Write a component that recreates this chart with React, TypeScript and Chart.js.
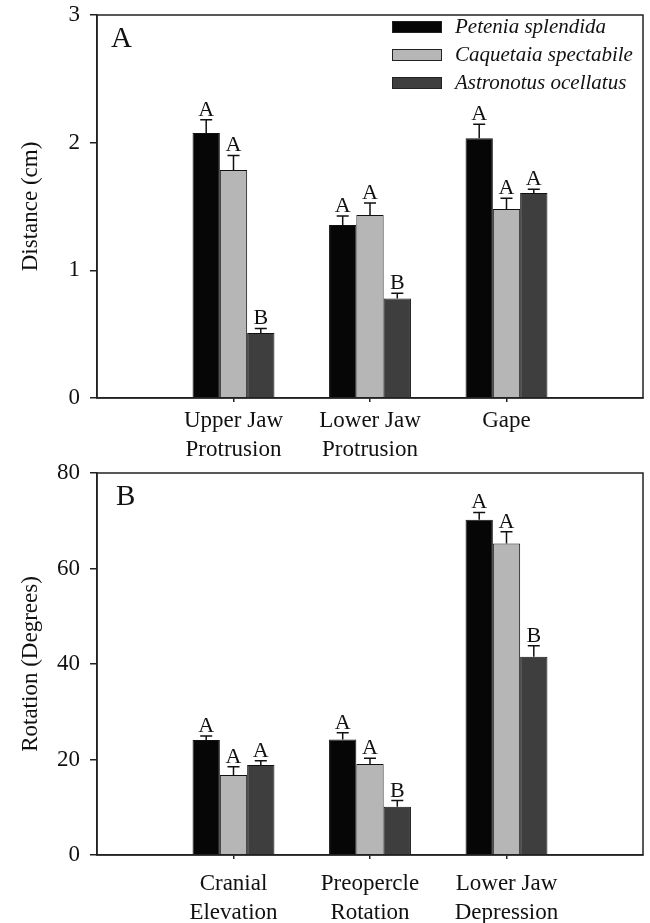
import React, { useEffect, useRef } from "react";
import { Chart, registerables } from "chart.js";
Chart.register(...registerables);

const FONT = "'Liberation Serif', 'Times New Roman', Times, serif";

const SERIES = ["Petenia splendida", "Caquetaia spectabile", "Astronotus ocellatus"];
const COLORS = ["#060606", "#b6b6b6", "#3e3e3e"];

// Panel A: distance (cm)
const CATS_A = [["Upper Jaw", "Protrusion"], ["Lower Jaw", "Protrusion"], ["Gape"]];
const PETENIA_A = [2.075, 1.355, 2.035];
const PETENIA_A_SE = [0.105, 0.07, 0.11];
const CAQUETAIA_A = [1.785, 1.433, 1.48];
const CAQUETAIA_A_SE = [0.115, 0.095, 0.085];
const ASTRONOTUS_A = [0.51, 0.78, 1.605];
const ASTRONOTUS_A_SE = [0.035, 0.04, 0.03];
const LETTERS_A = [["A", "A", "A"], ["A", "A", "A"], ["B", "B", "A"]];
const TICKS_A = { max: 3, step: 1 };

// Panel B: rotation (degrees)
const CATS_B = [["Cranial", "Elevation"], ["Preopercle", "Rotation"], ["Lower Jaw", "Depression"]];
const PETENIA_B = [24.1, 24.2, 70.2];
const PETENIA_B_SE = [0.8, 1.4, 1.55];
const CAQUETAIA_B = [16.75, 19.05, 65.25];
const CAQUETAIA_B_SE = [1.75, 1.2, 2.45];
const ASTRONOTUS_B = [18.85, 10.1, 41.5];
const ASTRONOTUS_B_SE = [0.9, 1.3, 2.3];
const LETTERS_B = [["A", "A", "A"], ["A", "A", "A"], ["A", "B", "B"]];
const TICKS_B = { max: 80, step: 20 };

type PanelProps = {
  height: number;
  topPad: number;
  xAxisH: number;
  xPad: number;
  cats: string[][];
  values: number[][];
  errors: number[][];
  letters: string[][];
  yMax: number;
  yStep: number;
  yTitle: string;
  panel: string;
  panelX: number;
  legend: boolean;
};

function Panel(p: PanelProps) {
  const ref = useRef<HTMLCanvasElement>(null);
  useEffect(() => {
    if (!ref.current) return;
    const labels: any[] = ["", ...p.cats, ""];
    const n = labels.length;
    const overlay = {
      id: "overlay",
      afterDatasetsDraw(chart: any) {
        const { ctx, chartArea: a } = chart;
        const y = chart.scales.y;
        ctx.save();
        ctx.strokeStyle = "#222";
        ctx.lineWidth = 1.5;
        ctx.strokeRect(a.left, a.top, a.right - a.left, a.bottom - a.top);
        // error bars and letters
        p.values.forEach((vals, i) => {
          const meta = chart.getDatasetMeta(i);
          vals.forEach((v, j) => {
            const bar = meta.data[j + 1];
            const x = bar.x;
            const y0 = y.getPixelForValue(v);
            const y1 = y.getPixelForValue(v + p.errors[i][j]);
            ctx.strokeStyle = "#111";
            ctx.lineWidth = 1.5;
            ctx.beginPath();
            ctx.moveTo(x, y0);
            ctx.lineTo(x, y1);
            ctx.moveTo(x - 6, y1);
            ctx.lineTo(x + 6, y1);
            ctx.stroke();
            ctx.fillStyle = "#111";
            ctx.font = `22px ${FONT}`;
            ctx.textAlign = "center";
            ctx.textBaseline = "alphabetic";
            ctx.fillText(p.letters[i][j], x, y1 - 4);
          });
        });
        // panel letter
        ctx.fillStyle = "#111";
        ctx.font = `29px ${FONT}`;
        ctx.textAlign = "left";
        ctx.textBaseline = "alphabetic";
        ctx.fillText(p.panel, a.left + p.panelX, a.top + 32);
        // legend
        if (p.legend) {
          SERIES.forEach((s, i) => {
            const cy = a.top + 12 + 28 * i;
            const sx = a.right - 251;
            ctx.fillStyle = COLORS[i];
            ctx.fillRect(sx, cy - 6, 50, 12);
            ctx.strokeStyle = "#222";
            ctx.lineWidth = 1;
            ctx.strokeRect(sx + 0.5, cy - 5.5, 49, 11);
            ctx.fillStyle = "#111";
            ctx.font = `italic 21px ${FONT}`;
            ctx.textAlign = "left";
            ctx.textBaseline = "middle";
            ctx.fillText(s, sx + 63, cy);
          });
        }
        ctx.restore();
      },
    };
    const chart = new Chart(ref.current, {
      type: "bar",
      data: {
        labels,
        datasets: SERIES.map((s, i) => ({
          label: s,
          data: [null, ...p.values[i], null],
          backgroundColor: COLORS[i],
          borderColor: "#111",
          borderWidth: 1,
          categoryPercentage: 0.6,
          barPercentage: 1,
        })),
      },
      options: {
        animation: false,
        responsive: false,
        maintainAspectRatio: false,
        layout: { padding: { top: p.topPad, right: 7, left: 0, bottom: 0 } },
        plugins: { legend: { display: false }, tooltip: { enabled: false } },
        scales: {
          x: {
            type: "category",
            offset: false,
            grid: {
              display: true,
              offset: false,
              drawOnChartArea: false,
              drawTicks: true,
              tickLength: 4,
              lineWidth: 1.5,
              color: (c: any) => (c.index === 0 || c.index === n - 1 ? "rgba(0,0,0,0)" : "#222"),
            },
            border: { display: true, color: "#222", width: 1.5 },
            ticks: {
              autoSkip: false,
              maxRotation: 0,
              minRotation: 0,
              padding: p.xPad,
              color: "#111",
              font: { family: FONT, size: 23, lineHeight: 1.25 },
            },
            afterFit: (s: any) => {
              s.height = p.xAxisH;
              s.paddingLeft = 0;
              s.paddingRight = 0;
            },
          },
          y: {
            min: 0,
            max: p.yMax,
            ticks: { stepSize: p.yStep, padding: 10, color: "#111", font: { family: FONT, size: 23 } },
            grid: { drawOnChartArea: false, drawTicks: true, tickLength: 7, color: "#222", lineWidth: 1.5 },
            border: { display: true, color: "#222", width: 1.5 },
            title: {
              display: true,
              text: p.yTitle,
              color: "#111",
              font: { family: FONT, size: 23 },
              padding: { top: 17, bottom: 0 },
            },
            afterFit: (s: any) => {
              s.width = 97;
              s.paddingTop = 0;
              s.paddingBottom = 0;
            },
          },
        },
      } as any,
      plugins: [overlay],
    });
    return () => chart.destroy();
  }, []);
  return <canvas ref={ref} width={650} height={p.height} style={{ display: "block", width: 650, height: p.height }} />;
}

export default function App() {
  return (
    <div style={{ position: "absolute", left: 0, top: 0, width: 650, background: "#fff" }}>
      <Panel
        height={461}
        topPad={15}
        xAxisH={63}
        xPad={5}
        cats={CATS_A}
        values={[PETENIA_A, CAQUETAIA_A, ASTRONOTUS_A]}
        errors={[PETENIA_A_SE, CAQUETAIA_A_SE, ASTRONOTUS_A_SE]}
        letters={LETTERS_A}
        yMax={TICKS_A.max}
        yStep={TICKS_A.step}
        yTitle="Distance (cm)"
        panel="A"
        panelX={14}
        legend={true}
      />
      <Panel
        height={462}
        topPad={12}
        xAxisH={68}
        xPad={11}
        cats={CATS_B}
        values={[PETENIA_B, CAQUETAIA_B, ASTRONOTUS_B]}
        errors={[PETENIA_B_SE, CAQUETAIA_B_SE, ASTRONOTUS_B_SE]}
        letters={LETTERS_B}
        yMax={TICKS_B.max}
        yStep={TICKS_B.step}
        yTitle="Rotation (Degrees)"
        panel="B"
        panelX={19}
        legend={false}
      />
    </div>
  );
}
